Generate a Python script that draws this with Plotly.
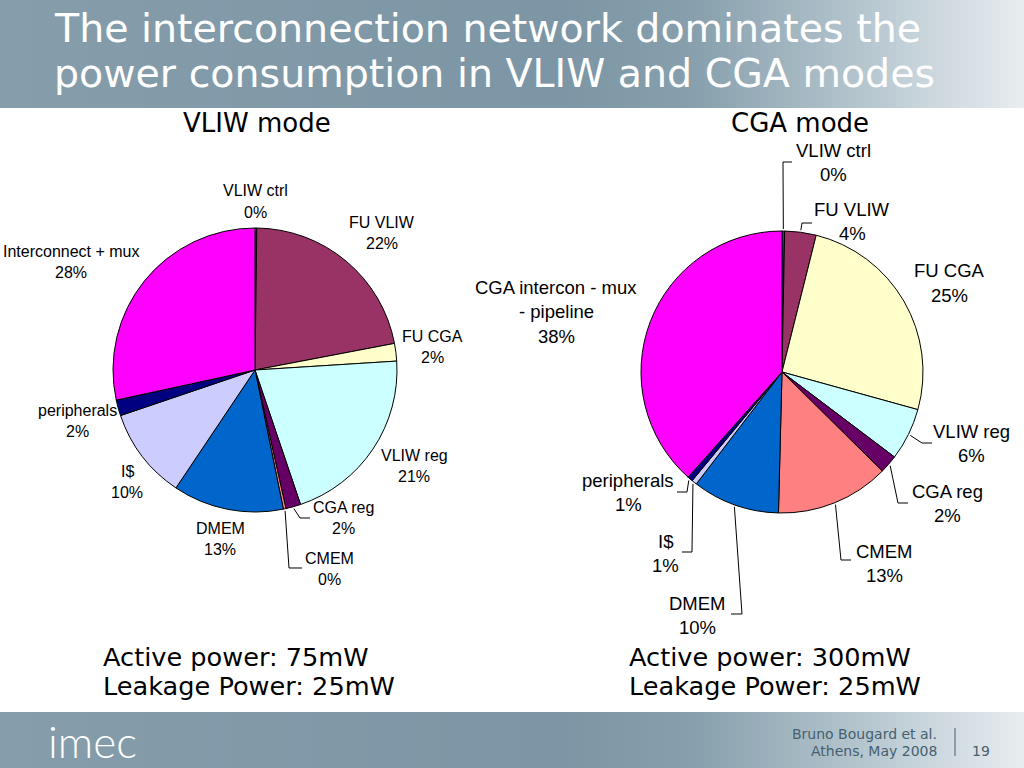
import math
import plotly.graph_objects as go

W, H = 1024, 768

# ---------------- data ----------------
vliw_categories = ["VLIW ctrl", "FU VLIW", "FU CGA", "VLIW reg", "CGA reg",
                   "CMEM", "DMEM", "I$", "peripherals", "Interconnect + mux"]
vliw_values = [0.2, 21.8, 2.0, 20.8, 1.7, 0.3, 12.6, 10.4, 1.8, 28.4]

cga_categories = ["VLIW ctrl", "FU VLIW", "FU CGA", "VLIW reg", "CGA reg",
                  "CMEM", "DMEM", "I$", "peripherals",
                  "CGA intercon - mux<br>- pipeline"]
cga_values = [0.3, 3.6, 25.4, 6.0, 2.1, 13.0, 10.0, 0.6, 0.6, 38.4]

slice_colors = ["#333399", "#993366", "#FFFFCC", "#CCFFFF", "#660066",
                "#FF8080", "#0066CC", "#CCCCFF", "#000080", "#FF00FF"]

title_lines = ["The interconnection network dominates the",
               "power consumption in VLIW and CGA modes"]
subtitles = ["VLIW mode", "CGA mode"]
vliw_power = ["Active power: 75mW", "Leakage Power: 25mW"]
cga_power = ["Active power: 300mW", "Leakage Power: 25mW"]
footer_lines = ["Bruno Bougard et al.", "Athens, May 2008"]
page_number = "19"


# ---------------- helpers ----------------
def px(x):
    return x / W


def py(y):
    return 1 - y / H


def lerp_color(stops, t):
    for (t0, c0), (t1, c1) in zip(stops[:-1], stops[1:]):
        if t0 <= t <= t1:
            f = (t - t0) / (t1 - t0) if t1 > t0 else 0
            c = [round(a + (b - a) * f) for a, b in zip(c0, c1)]
            return "rgb(%d,%d,%d)" % tuple(c)
    return "rgb(%d,%d,%d)" % stops[-1][1]


band_stops = [(0.0, (134, 157, 171)), (0.55, (124, 150, 165)),
              (0.68, (136, 160, 173)), (0.84, (180, 197, 206)),
              (1.0, (232, 237, 240))]

shapes = []
n_strips = 128
for y0, y1 in [(0, 108), (712, 768)]:
    for i in range(n_strips):
        xa = i * W / n_strips
        xb = (i + 1) * W / n_strips + 0.8
        col = lerp_color(band_stops, (i + 0.5) / n_strips)
        shapes.append(dict(type="rect", xref="paper", yref="paper",
                           x0=px(xa), x1=px(min(xb, W)), y0=py(y1), y1=py(y0),
                           fillcolor=col, line=dict(width=0), layer="below"))

# pie geometry (pixels)
pies = [
    dict(values=vliw_values, cats=vliw_categories, cx=255, cy=370, r=142,
         font=16, gap=21.5),
    dict(values=cga_values, cats=cga_categories, cx=782, cy=372, r=141,
         font=18.5, gap=24.5),
]

# label layout: (x center, y of first line, leader waypoints or None)
vliw_label_pos = [
    (255, 191, None), (382, 222, None), (432, 336, None), (414, 455, None),
    (343, 507, [(300, 518), (310, 518)]),
    (329, 558, [(289, 568), (302, 568)]),
    (220, 528, None), (127, 471, None), (77, 410, None), (71, 251, None),
]
cga_label_pos = [
    (833, 150, [(783, 162), (792, 162)]),
    (852, 209, [(802, 223), (812, 223)]),
    (949, 271, None),
    (971, 431, [(922, 443), (932, 443)]),
    (947, 491, [(898, 503), (908, 503)]),
    (884, 551, [(841, 560), (851, 560)]),
    (697, 603, [(742, 614), (731, 614)]),
    (665, 541, [(692, 552), (682, 552)]),
    (628, 480, [(687, 492), (677, 492)]),
    (556, 287, None),
]
pies[0]["labels"] = vliw_label_pos
pies[1]["labels"] = cga_label_pos

fig = go.Figure()
annotations = []

for p in pies:
    cx, cy, r = p["cx"], p["cy"], p["r"]
    fig.add_trace(go.Pie(
        values=p["values"], labels=[c.replace("<br>", " ") for c in p["cats"]],
        sort=False, direction="clockwise", rotation=0,
        marker=dict(colors=slice_colors, line=dict(color="black", width=1)),
        textinfo="none", hoverinfo="label+percent", showlegend=False,
        domain=dict(x=[px(cx - r), px(cx + r)], y=[py(cy + r), py(cy - r)]),
    ))
    total = sum(p["values"])
    cum = 0.0
    for cat, v, (lx, ly, leader) in zip(p["cats"], p["values"], p["labels"]):
        mid = (cum + v / 2) / total * 2 * math.pi
        cum += v
        lines = cat.split("<br>") + ["%.0f%%" % (v / total * 100)]
        for k, t in enumerate(lines):
            annotations.append(dict(
                x=px(lx), y=py(ly + k * p["gap"]), xref="paper", yref="paper",
                text=t, showarrow=False, xanchor="center", yanchor="middle",
                font=dict(family="Liberation Sans, Arial", size=p["font"],
                          color="black")))
        if leader:
            sx = cx + (r + 2) * math.sin(mid)
            sy = cy - (r + 2) * math.cos(mid)
            pts = [(sx, sy)] + leader
            path = "M " + " L ".join("%f %f" % (px(a), py(b)) for a, b in pts)
            shapes.append(dict(type="path", xref="paper", yref="paper",
                               path=path, line=dict(color="black", width=1)))

# title
for k, t in enumerate(title_lines):
    annotations.append(dict(x=px(52), y=py(28 + 45 * k), xref="paper",
                            yref="paper", text=t, showarrow=False,
                            xanchor="left", yanchor="middle",
                            font=dict(family="DejaVu Sans", size=39.5,
                                      color="white")))
# subtitles
for t, xc in zip(subtitles, [257, 800]):
    annotations.append(dict(x=px(xc), y=py(123), xref="paper", yref="paper",
                            text=t, showarrow=False, xanchor="center",
                            yanchor="middle",
                            font=dict(family="DejaVu Sans", size=26,
                                      color="black")))
# power texts
for lines, x0 in [(vliw_power, 101), (cga_power, 627)]:
    for k, t in enumerate(lines):
        annotations.append(dict(x=px(x0), y=py(657 + 29 * k), xref="paper",
                                yref="paper", text=t, showarrow=False,
                                xanchor="left", yanchor="middle",
                                font=dict(family="DejaVu Sans", size=25.6,
                                          color="black")))
# footer
annotations.append(dict(x=px(92), y=py(741), xref="paper", yref="paper",
                        text="imec", showarrow=False, xanchor="center",
                        yanchor="middle",
                        font=dict(family="Lato", size=44, weight=300,
                                  color="white")))
for k, t in enumerate(footer_lines):
    annotations.append(dict(x=px(939), y=py(734 + 17 * k), xref="paper",
                            yref="paper", text=t, showarrow=False,
                            xanchor="right", yanchor="middle",
                            font=dict(family="DejaVu Sans", size=14,
                                      color="#45606f")))
annotations.append(dict(x=px(981), y=py(751), xref="paper", yref="paper",
                        text=page_number, showarrow=False, xanchor="center",
                        yanchor="middle",
                        font=dict(family="DejaVu Sans", size=14,
                                  color="#45606f")))
shapes.append(dict(type="line", xref="paper", yref="paper",
                   x0=px(955), x1=px(955), y0=py(756), y1=py(728),
                   line=dict(color="#45606f", width=1)))

fig.update_layout(
    width=W, height=H, margin=dict(l=0, r=0, t=0, b=0),
    paper_bgcolor="white", plot_bgcolor="white",
    shapes=shapes, annotations=annotations,
)

fig.write_html(
    "out.html",
    config={"displayModeBar": False},
    post_script="document.body.style.margin='0px';"
                "document.body.style.overflow='hidden';",
)
